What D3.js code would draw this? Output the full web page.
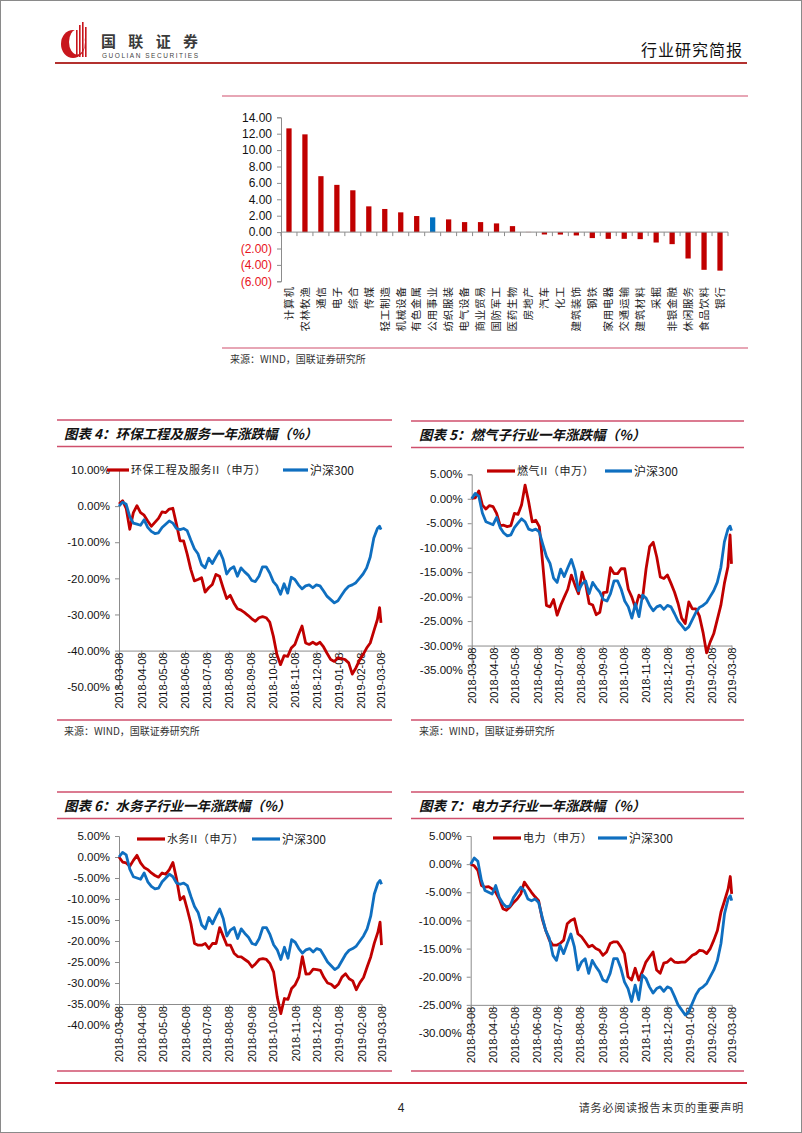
<!DOCTYPE html>
<html><head><meta charset="utf-8">
<script src="https://cdn.jsdelivr.net/npm/d3@7"></script>
<style>body{margin:0;background:#fff}svg{display:block}</style>
</head><body>
<svg id="c" width="802" height="1133"></svg>
<script>
// ---------------- DATA ----------------
const barCategories = ["计算机","农林牧渔","通信","电子","综合","传媒","轻工制造","机械设备","有色金属","公用事业","纺织服装","电气设备","商业贸易","国防军工","医药生物","房地产","汽车","化工","建筑装饰","钢铁","家用电器","交通运输","建筑材料","采掘","非银金融","休闲服务","食品饮料","银行"];
const barValues = [12.65,11.92,6.82,5.76,5.10,3.14,2.82,2.41,1.96,1.80,1.55,1.22,1.22,1.06,0.73,0.02,-0.29,-0.30,-0.41,-0.73,-0.82,-0.82,-0.86,-1.27,-1.47,-3.22,-4.60,-4.70];
const barHighlight = "公用事业";
const barTicks = [14,12,10,8,6,4,2,0,-2,-4,-6];

const tickLabels = ["2018-03-08","2018-04-08","2018-05-08","2018-06-08","2018-07-08","2018-08-08","2018-09-08","2018-10-08","2018-11-08","2018-12-08","2019-01-08","2019-02-08","2019-03-08"];
// days after 2018-03-08 at which values were read
const dayOffsets = d3.range(0, 361, 5).concat([363, 365]);

const hs300 = [0.0,1.1,0.5,-2.9,-4.7,-5.0,-5.3,-3.8,-5.9,-7.0,
 -7.6,-7.4,-5.9,-5.0,-4.1,-4.7,-6.2,-6.5,-6.2,-6.8,
 -9.4,-11.8,-13.2,-16.2,-17.1,-14.4,-15.9,-14.1,-12.4,-14.7,
 -18.8,-17.4,-16.8,-19.4,-17.1,-18.2,-19.1,-20.6,-20.9,-19.4,
 -16.8,-16.8,-18.5,-20.9,-22.1,-24.4,-21.5,-24.1,-19.7,-20.3,
 -21.8,-22.9,-22.1,-21.8,-22.6,-21.8,-22.1,-23.5,-25.0,-25.9,
 -26.8,-26.2,-24.7,-23.2,-22.2,-21.8,-21.2,-20.0,-18.8,-17.1,
 -14.1,-8.8,-6.2,-5.6,-6.5];
const huanbao = [0.6,1.5,-0.6,-6.4,-1.8,0.1,-1.8,-2.5,-4.1,-5.6,
 -4.5,-3.4,-1.6,-1.8,-0.8,-0.6,-5.0,-9.6,-9.6,-13.3,
 -17.5,-20.7,-20.3,-19.8,-23.8,-22.6,-21.7,-18.9,-19.4,-22.6,
 -25.6,-24.7,-26.8,-28.4,-28.8,-29.5,-30.3,-31.2,-31.9,-30.9,
 -30.6,-30.9,-32.1,-36.0,-41.1,-43.9,-41.4,-41.6,-39.3,-38.3,
 -35.6,-33.2,-37.9,-38.3,-37.7,-38.3,-37.7,-39.0,-40.8,-42.5,
 -43.0,-42.0,-42.2,-42.5,-43.4,-46.5,-44.8,-42.7,-41.1,-39.3,
 -37.9,-34.6,-31.4,-28.1,-32.3];
const ranqi = [0.1,0.2,1.6,-1.3,-2.1,-1.4,-1.6,-3.0,-5.5,-5.4,
 -5.7,-5.5,-3.0,-3.2,-1.3,2.8,-0.6,-4.7,-4.4,-5.7,
 -13.6,-21.8,-22.1,-20.6,-23.8,-21.8,-20.1,-18.5,-15.6,-17.6,
 -19.4,-15.0,-17.3,-21.4,-21.7,-23.7,-23.2,-19.2,-19.1,-14.1,
 -15.3,-15.3,-14.3,-14.3,-18.5,-20.1,-22.3,-19.7,-20.4,-14.3,
 -9.8,-8.9,-11.9,-16.0,-16.3,-15.6,-17.3,-19.1,-21.4,-24.4,
 -25.5,-21.1,-22.5,-22.5,-24.0,-27.3,-31.5,-29.3,-27.6,-24.7,
 -21.8,-17.3,-13.9,-7.4,-13.3];
const shuiwu = [0.0,-1.2,-1.4,-2.2,-0.8,0.4,-1.4,-2.5,-3.0,-3.8,
 -4.4,-4.8,-3.8,-4.1,-3.0,-1.3,-5.2,-10.2,-9.4,-12.5,
 -15.9,-20.6,-21.0,-21.0,-20.6,-21.8,-20.6,-20.6,-16.8,-18.9,
 -21.0,-21.0,-22.9,-23.7,-23.8,-24.4,-25.0,-26.2,-25.4,-24.4,
 -24.2,-24.4,-25.4,-27.4,-33.3,-37.3,-33.7,-33.9,-31.3,-30.4,
 -28.6,-23.7,-27.9,-27.8,-26.7,-26.8,-27.0,-28.7,-30.0,-30.3,
 -31.1,-30.3,-28.6,-27.8,-29.0,-29.5,-31.6,-29.9,-28.7,-26.2,
 -23.8,-20.5,-17.9,-15.5,-21.0];
const dianli = [0.0,-0.3,-1.1,-3.8,-4.1,-4.0,-4.4,-5.0,-6.2,-7.9,
 -8.2,-7.6,-6.8,-6.2,-5.3,-3.2,-4.1,-5.0,-5.8,-6.5,
 -9.7,-11.8,-13.5,-14.4,-14.4,-14.1,-13.5,-10.6,-10.0,-9.7,
 -12.4,-12.9,-13.8,-14.7,-14.4,-15.0,-15.3,-16.2,-15.6,-14.1,
 -13.8,-13.8,-14.7,-15.9,-20.0,-20.6,-18.5,-20.6,-19.1,-17.4,
 -16.5,-15.6,-18.8,-19.4,-17.6,-17.4,-16.8,-17.4,-17.5,-17.4,
 -17.4,-16.8,-16.2,-15.9,-15.3,-15.4,-15.9,-15.0,-13.5,-11.8,
 -8.5,-6.5,-4.4,-2.2,-5.3];

const RED = "#c00000", BLUE = "#0f6fc0", ROSE = "#cf4f6c";
const FONT = "'Liberation Sans', Arial, sans-serif";
const CJK = "'Noto Sans CJK SC', sans-serif";

// ---------------- PAGE ----------------
const svg = d3.select("#c");
svg.append("rect").attr("x",0.5).attr("y",0.5).attr("width",801).attr("height",1132)
  .attr("fill","#fff").attr("stroke","#8a8a8a");

// header logo
const logo = svg.append("g");
logo.append("ellipse").attr("cx",73).attr("cy",44).attr("rx",12).attr("ry",14).attr("fill","#c8161d");
logo.append("ellipse").attr("cx",77).attr("cy",42).attr("rx",8).attr("ry",12.5).attr("fill","#fff");
[[76,30],[79,25],[82,22],[85,27]].forEach(([x,t])=>{
  logo.append("rect").attr("x",x).attr("y",t).attr("width",1.6).attr("height",57-t).attr("fill","#c8161d");
});
logo.append("text").attr("x",101).attr("y",47).attr("font-family",CJK).attr("font-weight","bold")
  .attr("font-size",15).attr("fill","#3a3a3a").attr("textLength",97).text("国联证券");
logo.append("text").attr("x",102).attr("y",58).attr("font-family",FONT).attr("font-size",6.5)
  .attr("fill","#444").attr("textLength",96).text("GUOLIAN SECURITIES");
svg.append("text").attr("x",743).attr("y",56).attr("text-anchor","end").attr("font-family",CJK)
  .attr("font-size",16).attr("letter-spacing",1).attr("fill","#111").text("行业研究简报");
svg.append("line").attr("x1",55).attr("x2",747).attr("y1",63).attr("y2",63).attr("stroke","#b3312f").attr("stroke-width",1.8);

function hline(x1,x2,y,color,w){
  svg.append("line").attr("x1",x1).attr("x2",x2).attr("y1",y).attr("y2",y).attr("stroke",color).attr("stroke-width",w);
}
function txt(x,y,s,size,opts={}){
  const t = svg.append("text").attr("x",x).attr("y",y).attr("font-size",size)
    .attr("font-family",opts.font||CJK).attr("fill",opts.fill||"#222").text(s);
  if(opts.anchor) t.attr("text-anchor",opts.anchor);
  if(opts.bold) t.attr("font-weight","bold");
  if(opts.italic) t.attr("font-style","italic");
  if(opts.ls) t.attr("letter-spacing",opts.ls);
  return t;
}

// ---------------- BAR CHART ----------------
hline(222,748,96,ROSE,1.2);
hline(222,748,348,ROSE,1.2);
txt(230,362.5,"来源：WIND，国联证券研究所",10,{fill:"#333"});
{
  const x = d3.scaleBand().domain(barCategories).range([281,728]).paddingInner(0.67).paddingOuter(0.335);
  const y = d3.scaleLinear().domain([-6,14]).range([281.3,117.3]);
  const g = svg.append("g");
  g.selectAll("rect.bar").data(barCategories).join("rect")
    .attr("x",d=>x(d)).attr("width",x.bandwidth())
    .attr("y",(d,i)=>Math.min(y(barValues[i]),y(0)))
    .attr("height",(d,i)=>Math.abs(y(barValues[i])-y(0)))
    .attr("fill",d=>d===barHighlight?"#0070c0":RED);
  const ya = g.append("g").attr("transform","translate(281,0)")
    .call(d3.axisLeft(y).tickValues(barTicks).tickSize(4).tickPadding(5)
      .tickFormat(d=> d<0 ? "("+Math.abs(d).toFixed(2)+")" : d.toFixed(2)));
  ya.selectAll("text").attr("font-family",FONT).attr("font-size",12)
    .attr("fill",d=>d<0?"#e8141c":"#111");
  ya.selectAll("line,path").attr("stroke","#8c8c8c");
  // category axis at zero
  const step = x.step();
  g.append("line").attr("x1",281).attr("x2",728).attr("y1",y(0)).attr("y2",y(0)).attr("stroke","#8c8c8c");
  g.selectAll("line.ct").data(d3.range(barCategories.length+1)).join("line")
    .attr("x1",i=>281+i*step).attr("x2",i=>281+i*step).attr("y1",y(0)).attr("y2",y(0)+4).attr("stroke","#8c8c8c");
  g.selectAll("text.cat").data(barCategories).join("text")
    .attr("transform",d=>`translate(${x(d)+x.bandwidth()/2},${y(-6)+5}) rotate(-90)`)
    .attr("text-anchor","end").attr("dy","0.36em")
    .attr("font-family",CJK).attr("font-size",10.5).attr("letter-spacing",0.8).attr("fill","#222").text(d=>d);
}

// ---------------- LINE CHARTS ----------------
const parse = d3.timeParse("%Y-%m-%d");
const tickDates = tickLabels.map(parse);
const dates = dayOffsets.map(d=>d3.timeDay.offset(tickDates[0], d));

function lineChart(c){
  hline(c.fx1,c.fx2,c.titleTop,ROSE,1.3);
  hline(c.fx1,c.fx2,c.titleTop+26.5,ROSE,1.3);
  txt(c.tx,c.titleTop+19,c.title,13.5,{bold:true,italic:true,fill:"#111"});
  hline(c.fx1,c.fx2,c.bottomLine,ROSE,1.3);
  if(c.source) txt(c.tx,c.bottomLine+15,"来源：WIND，国联证券研究所",10,{fill:"#333"});

  const x = d3.scaleTime().domain([tickDates[0],tickDates[tickDates.length-1]]).range([c.x0,c.x1]);
  const y = d3.scaleLinear().domain(c.yDomain).range([c.yB,c.yT]);
  const g = svg.append("g");
  const ya = g.append("g").attr("transform",`translate(${c.x0},0)`)
    .call(d3.axisLeft(y).tickValues(d3.range(c.yDomain[0],c.yDomain[1]+0.001,c.yStep)).tickSize(4).tickPadding(5)
      .tickFormat(d=>(d<0?"-":"")+Math.abs(d).toFixed(2)+"%"));
  ya.selectAll("text").attr("font-family",FONT).attr("font-size",11.5).attr("fill","#111");
  ya.selectAll("line,path").attr("stroke","#8c8c8c");
  const xa = g.append("g").attr("transform",`translate(0,${y(c.cross)})`)
    .call(d3.axisBottom(x).tickValues(tickDates).tickSize(4).tickSizeOuter(0).tickFormat(d3.timeFormat("%Y-%m-%d")));
  xa.selectAll("line,path").attr("stroke","#8c8c8c");
  xa.selectAll("text").attr("font-family",FONT).attr("font-size",11).attr("fill","#111")
    .attr("text-anchor","end").attr("transform","translate(0,2) rotate(-90)").attr("dx","0").attr("dy","0.35em").attr("x",0).attr("y",0);

  const line = d3.line().x((d,i)=>x(dates[i])).y(d=>y(d)).curve(d3.curveLinear);
  g.append("path").datum(c.series).attr("d",line).attr("fill","none").attr("stroke",RED)
    .attr("stroke-width",2.8).attr("stroke-linejoin","round");
  g.append("path").datum(hs300).attr("d",line).attr("fill","none").attr("stroke",BLUE)
    .attr("stroke-width",2.8).attr("stroke-linejoin","round");

  const L = c.legend;
  svg.append("line").attr("x1",L.r0).attr("x2",L.r1).attr("y1",L.y).attr("y2",L.y).attr("stroke",RED).attr("stroke-width",3.2);
  txt(L.r1+2,L.y+4,c.name,11,{fill:"#222",ls:0.6});
  svg.append("line").attr("x1",L.b0).attr("x2",L.b1).attr("y1",L.y).attr("y2",L.y).attr("stroke",BLUE).attr("stroke-width",3.2);
  txt(L.b1+2,L.y+4.5,"沪深300",12,{fill:"#222"});
}

lineChart({title:"图表 4：环保工程及服务一年涨跌幅（%）", name:"环保工程及服务II（申万）", series:huanbao,
  fx1:57, fx2:392, titleTop:420, tx:64, bottomLine:720, source:true,
  x0:119, x1:381, yT:470, yB:686.7, yDomain:[-50,10], yStep:10, cross:-40,
  legend:{y:470, r0:107, r1:129, b0:283, b1:308}});
lineChart({title:"图表 5：燃气子行业一年涨跌幅（%）", name:"燃气II（申万）", series:ranqi,
  fx1:411, fx2:744, titleTop:421, tx:419, bottomLine:720, source:true,
  x0:471.7, x1:731.5, yT:474.3, yB:670, yDomain:[-35,5], yStep:5, cross:-30,
  legend:{y:471, r0:487, r1:515, b0:605, b1:632}});
lineChart({title:"图表 6：水务子行业一年涨跌幅（%）", name:"水务II（申万）", series:shuiwu,
  fx1:57, fx2:392, titleTop:792, tx:64, bottomLine:1071, source:false,
  x0:119, x1:381.5, yT:836, yB:1025, yDomain:[-40,5], yStep:5, cross:-35,
  legend:{y:839, r0:137, r1:165, b0:252, b1:280}});
lineChart({title:"图表 7：电力子行业一年涨跌幅（%）", name:"电力（申万）", series:dianli,
  fx1:411, fx2:744, titleTop:792, tx:419, bottomLine:1071, source:false,
  x0:470.7, x1:731.7, yT:836, yB:1033, yDomain:[-30,5], yStep:5, cross:-25,
  legend:{y:838, r0:493, r1:521, b0:598, b1:627}});

// footer
hline(55,747,1083,"#c8101e",2);
txt(401,1112,"4",12,{font:FONT,anchor:"middle",fill:"#222"});
txt(744,1112,"请务必阅读报告末页的重要声明",11,{anchor:"end",fill:"#333",ls:0.8});
</script>
</body></html>
